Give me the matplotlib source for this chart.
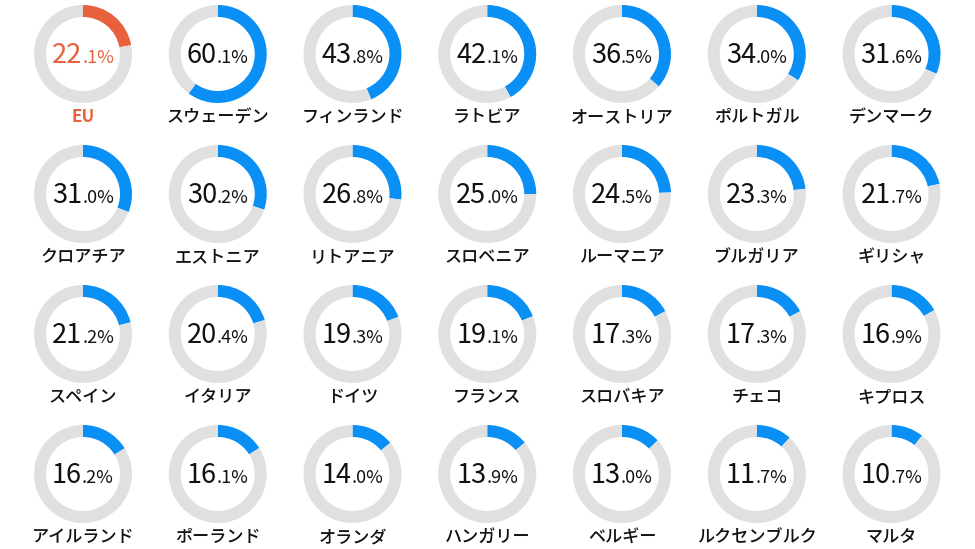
import matplotlib
matplotlib.use("Agg")
import matplotlib.pyplot as plt
from matplotlib.offsetbox import TextArea, HPacker, AnnotationBbox

plt.rcParams['font.family'] = ['Noto Sans CJK JP', 'DejaVu Sans']

countries = ["EU", "スウェーデン", "フィンランド", "ラトビア", "オーストリア", "ポルトガル", "デンマーク",
             "クロアチア", "エストニア", "リトアニア", "スロベニア", "ルーマニア", "ブルガリア", "ギリシャ",
             "スペイン", "イタリア", "ドイツ", "フランス", "スロバキア", "チェコ", "キプロス",
             "アイルランド", "ポーランド", "オランダ", "ハンガリー", "ベルギー", "ルクセンブルク", "マルタ"]
values = [22.1, 60.1, 43.8, 42.1, 36.5, 34.0, 31.6,
          31.0, 30.2, 26.8, 25.0, 24.5, 23.3, 21.7,
          21.2, 20.4, 19.3, 19.1, 17.3, 17.3, 16.9,
          16.2, 16.1, 14.0, 13.9, 13.0, 11.7, 10.7]

W, H = 975, 549
fig = plt.figure(figsize=(W / 100, H / 100), dpi=100)
ax = fig.add_axes([0, 0, 1, 1])
ax.set_xlim(0, W)
ax.set_ylim(0, H)
ax.set_aspect('equal')
ax.axis('off')

ncols = 7
x0, dx = 83, 134.75
y0, dy = 54, 140
R, ring = 49, 12
blue = "#0A8FF5"
orange = "#E8603C"
gray = "#E0E0E0"

for i, (name, v) in enumerate(zip(countries, values)):
    r, c = divmod(i, ncols)
    cx = x0 + c * dx
    cy = H - (y0 + r * dy)
    col = orange if name == "EU" else blue
    ax.pie([v, 100 - v], colors=[col, gray], startangle=90, counterclock=False,
           radius=R, center=(cx, cy), wedgeprops=dict(width=ring, linewidth=0))
    s = f"{v:.1f}"
    ip, dp = s.split(".")
    tcol = orange if name == "EU" else "#111111"
    big = TextArea(ip, textprops=dict(fontsize=19.5, color=tcol, fontweight='normal'))
    small = TextArea("." + dp + "%", textprops=dict(fontsize=13, color=tcol, fontweight='normal'))
    pack = HPacker(children=[big, small], align="baseline", pad=0, sep=0)
    ab = AnnotationBbox(pack, (cx, cy - 1.5), frameon=False, box_alignment=(0.5, 0.5), pad=0)
    ax.add_artist(ab)
    ax.text(cx, cy - 63, name, ha='center', va='center', fontsize=12.3,
            color=orange if name == "EU" else "#111111",
            fontweight='bold' if name == "EU" else 'medium')

ax.set_xlim(0, W)
ax.set_ylim(0, H)
fig.savefig("out.png", dpi=100)
